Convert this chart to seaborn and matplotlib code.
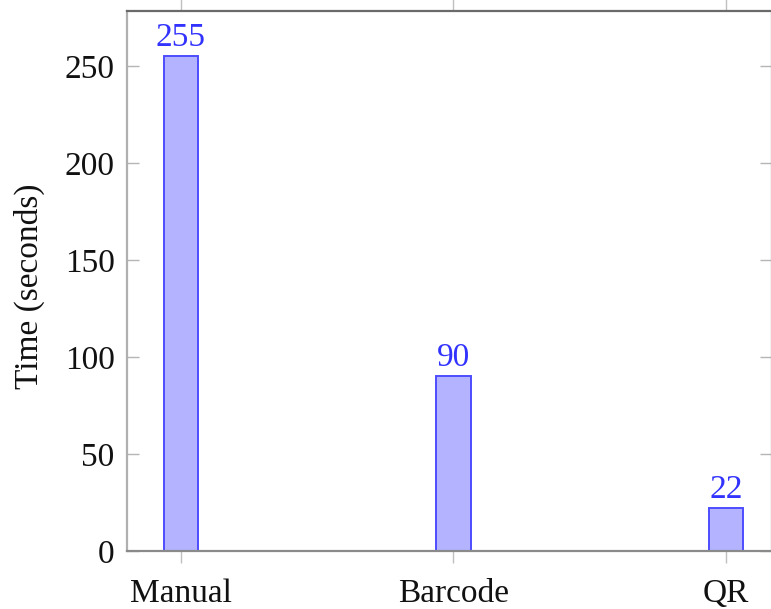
import matplotlib
matplotlib.use("Agg")
import matplotlib.pyplot as plt
import seaborn as sns
import pandas as pd

categories = ["Manual", "Barcode", "QR"]
times = [255, 90, 22]
yticks = [0, 50, 100, 150, 200, 250]

sns.set_theme(style="white")
plt.rcParams["font.family"] = ["Liberation Serif", "DejaVu Serif"]

W, H = 771, 609
FS = 24
fig = plt.figure(figsize=(W / 100, H / 100), dpi=100)
ax = fig.add_axes([127 / W, 1 - 551 / H, (772 - 127) / W, (551 - 11) / H])

df = pd.DataFrame({"cat": categories, "t": times})
sns.barplot(data=df, x="cat", y="t", ax=ax, width=0.128, saturation=1,
            color="#b3b3ff", edgecolor="#4d4dff", linewidth=1.4)

for i, v in enumerate(times):
    ax.annotate(str(v), (i, v), xytext=(0, 2.5), textcoords="offset points",
                ha="center", va="bottom", color="#3333ff", fontsize=FS)

ax.set_xlim(-0.198, 2.169)
ax.set_ylim(0, 278.4)
ax.set_yticks(yticks)
ax.set_yticklabels([str(t) for t in yticks])
ax.set_xlabel("")
ax.set_ylabel("Time (seconds)", fontsize=FS, color="#111111")
ax.yaxis.set_label_coords(-0.127, 0.49)

for s in ax.spines.values():
    s.set_visible(True)
    s.set_linewidth(1.6)
ax.spines["left"].set_color("#b0b0b0")
ax.spines["bottom"].set_color("#8a8a8a")
ax.spines["top"].set_color("#6a6a6a")
ax.spines["right"].set_color("#8a8a8a")

ax.tick_params(axis="y", which="both", direction="in", length=8.5, width=1,
               color="#b5b5b5", left=True, right=True, labelsize=FS,
               labelcolor="#111111", pad=9)
ax.tick_params(axis="x", which="both", direction="out", length=8.5, width=1,
               color="#c0c0c0", bottom=True, top=True, labelsize=FS,
               labelcolor="#111111", pad=11)

fig.savefig("out.png", dpi=100)
